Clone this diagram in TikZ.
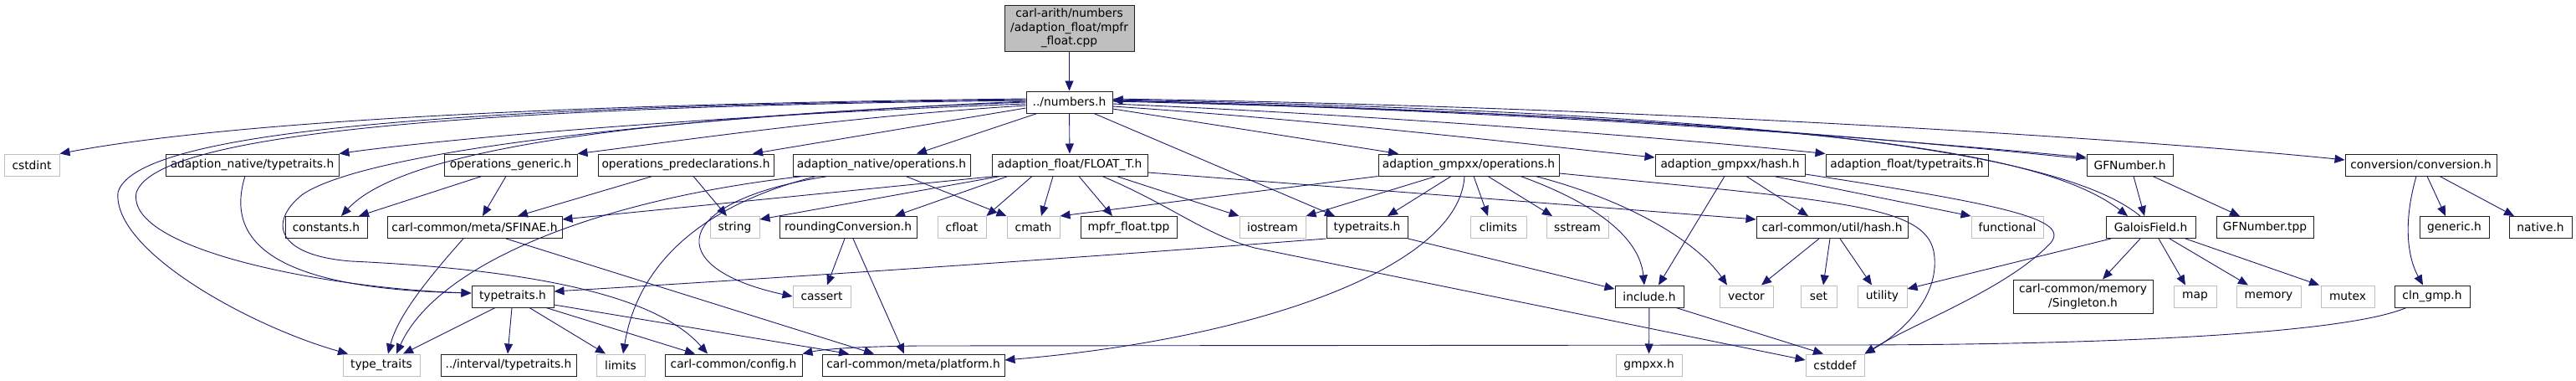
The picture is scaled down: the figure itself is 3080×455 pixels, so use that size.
\documentclass[tikz,border=0pt]{standalone}
\usepackage{fontspec}
\newfontfamily\dvsans{DejaVu Sans}
\usetikzlibrary{arrows.meta,calc}
\definecolor{edgecol}{HTML}{191970}
\definecolor{sysgray}{HTML}{BFBFBF}
\definecolor{topfill}{HTML}{BFBFBF}
\definecolor{hdrline}{HTML}{202020}
\newcommand{\hn}[6]{\node[#1, minimum width={#4*0.5pt-#3*0.5pt}] (#2) at ({(#3+#4)/2},#5) {#6};}
\begin{document}
\begin{tikzpicture}[x=0.5pt,y=-0.5pt,
  base/.style={rectangle, inner sep=0pt, minimum height=13pt, font=\dvsans\fontsize{6.9pt}{8.2pt}\selectfont, align=center},
  hdr/.style={base, draw=hdrline, line width=0.5pt, fill=white},
  sys/.style={base, draw=sysgray, line width=0.5pt, fill=white},
  topn/.style={base, draw=hdrline, line width=0.5pt, fill=topfill, minimum height=27.5pt},
  two/.style={hdr, minimum height=20pt},
  e/.style={draw=edgecol, line width=0.45pt, -{Triangle[length=6pt,width=5pt]}, color=edgecol}]
\useasboundingbox (0,0) rectangle (3080,455);
% rows
\def\ra{197}\def\rb{271.5}\def\rc{354}\def\rd{436}
\hn{topn}{top}{1201}{1356}{33.5}{carl-arith/numbers\\/adaption\_float/mpfr\\\_float.cpp}
\hn{hdr}{N}{1227}{1330}{122}{../numbers.h}
% row 1
\hn{sys}{cstdint}{5}{71}{\ra}{cstdint}
\hn{hdr}{ant}{198}{405}{\ra}{adaption\_native/typetraits.h}
\hn{hdr}{opg}{531}{690}{\ra}{operations\_generic.h}
\hn{hdr}{opp}{715}{925}{\ra}{operations\_predeclarations.h}
\hn{hdr}{ano}{948}{1160}{\ra}{adaption\_native/operations.h}
\hn{hdr}{ft}{1186}{1372}{\ra}{adaption\_float/FLOAT\_T.h}
\hn{hdr}{gops}{1648}{1864}{\ra}{adaption\_gmpxx/operations.h}
\hn{hdr}{ghash}{1979}{2158}{\ra}{adaption\_gmpxx/hash.h}
\hn{hdr}{aft}{2183}{2377}{\ra}{adaption\_float/typetraits.h}
\hn{hdr}{gfn}{2495}{2598}{\ra}{GFNumber.h}
\hn{hdr}{conv}{2804}{2985}{\ra}{conversion/conversion.h}
% row 2
\hn{hdr}{constants}{341}{439}{\rb}{constants.h}
\hn{hdr}{sfinae}{463}{672}{\rb}{carl-common/meta/SFINAE.h}
\hn{sys}{string}{849}{908}{\rb}{string}
\hn{hdr}{rc}{932}{1096}{\rb}{roundingConversion.h}
\hn{sys}{cfloat}{1121}{1179}{\rb}{cfloat}
\hn{sys}{cmath}{1204}{1267}{\rb}{cmath}
\hn{hdr}{mpfrtpp}{1292}{1407}{\rb}{mpfr\_float.tpp}
\hn{sys}{iostream}{1482}{1561}{\rb}{iostream}
\hn{hdr}{gtt}{1586}{1683}{\rb}{typetraits.h}
\hn{sys}{climits}{1758}{1825}{\rb}{climits}
\hn{sys}{sstream}{1849}{1923}{\rb}{sstream}
\hn{hdr}{uhash}{2100}{2281}{\rb}{carl-common/util/hash.h}
\hn{sys}{functional}{2357}{2443}{\rb}{functional}
\hn{hdr}{gf}{2518}{2625}{\rb}{GaloisField.h}
\hn{hdr}{gftpp}{2650}{2766}{\rb}{GFNumber.tpp}
\hn{hdr}{generic}{2893}{2976}{\rb}{generic.h}
\hn{hdr}{native}{3000}{3075}{\rb}{native.h}
% row 3
\hn{hdr}{tt}{564}{662}{\rc}{typetraits.h}
\hn{sys}{cassert}{948}{1017}{\rc}{cassert}
\hn{hdr}{include}{1931}{2013}{\rc}{include.h}
\hn{sys}{vector}{2056}{2120}{\rc}{vector}
\hn{sys}{set}{2153}{2196}{\rc}{set}
\hn{sys}{utility}{2221}{2280}{\rc}{utility}
\hn{two}{singleton}{2407}{2574}{\rc}{carl-common/memory\\/Singleton.h}
\hn{sys}{map}{2599}{2650}{\rc}{map}
\hn{sys}{memory}{2674}{2751}{\rc}{memory}
\hn{sys}{mutex}{2775}{2839}{\rc}{mutex}
\hn{hdr}{clngmp}{2863}{2953}{\rc}{cln\_gmp.h}
% row 4
\hn{sys}{typetr}{410}{502}{\rd}{type\_traits}
\hn{hdr}{interval}{527}{689}{\rd}{../interval/typetraits.h}
\hn{sys}{limits}{713}{771}{\rd}{limits}
\hn{hdr}{config}{795}{959}{\rd}{carl-common/config.h}
\hn{hdr}{platform}{983}{1201}{\rd}{carl-common/meta/platform.h}
\hn{sys}{gmpxxh}{1932}{2011}{\rd}{gmpxx.h}
\hn{sys}{cstddef}{2159}{2229}{\rd}{cstddef}

% ---------- edges ----------
\draw[e] (top) -- (N);
% numbers.h leftwards
\draw[e] (N.west |- 0,118) .. controls (600,125) and (250,150) .. (cstdint.north east);
\draw[e] (N.west |- 0,119) .. controls (500,127) and (160,160) .. (141,230) .. controls (135,300) and (300,390) .. (416,0 |- typetr.north);
\draw[e] (N.west |- 0,120) .. controls (500,128) and (185,165) .. (163,230) .. controls (150,300) and (400,345) .. (tt.west |- 0,350);
\draw[e] (N.west |- 0,121) .. controls (800,140) and (440,180) .. (362,232) .. controls (320,265) and (330,305) .. (420,312) .. controls (700,325) and (800,370) .. (846,0 |- config.north);
\draw[e] (N.west |- 0,122) .. controls (750,140) and (480,180) .. (408,0 |- constants.north);
\draw[e] (N.west |- 0,124) .. controls (800,140) and (500,170) .. (ant.north east);
\draw[e] (N.west |- 0,126) .. controls (1000,140) and (800,170) .. (opg.north east);
\draw[e] (N.west |- 0,129) -- (900,0 |- opp.north);
\draw[e] (1240,0 |- N.south) -- (1096,0 |- ano.north);
\draw[e] (N) -- (ft);
\draw[e] (1308,0 |- N.south) -- (1596,0 |- gtt.north);
% numbers.h rightwards
\draw[e] (N.east |- 0,130) -- (1672,0 |- gops.north);
\draw[e] (N.east |- 0,127) .. controls (1600,145) and (1850,175) .. (ghash.west |- 0,188);
\draw[e] (N.east |- 0,124) .. controls (1700,140) and (2050,170) .. (aft.north west);
\draw[e] (N.east |- 0,120) .. controls (1900,135) and (2300,170) .. (gfn.west |- 0,188);
\draw[e] (N.east |- 0,118) .. controls (2000,128) and (2600,170) .. (conv.west |- 0,191);
\draw[e] (N.east |- 0,121) .. controls (2100,140) and (2430,170) .. (2544,0 |- gf.north);
\draw[e] (2559,0 |- gf.north) .. controls (2470,185) and (2150,135) .. (N.east |- 0,119);
\draw[e] (gfn.west |- 0,190) .. controls (2250,165) and (1900,133) .. (N.east |- 0,120);
% adaption_native/operations.h
\draw[e] (960,0 |- ano.south) .. controls (700,240) and (520,320) .. (474,0 |- typetr.north);
\draw[e] (976,0 |- ano.south) .. controls (820,250) and (760,330) .. (745,0 |- limits.north);
\draw[e] (990,0 |- ano.south) .. controls (800,240) and (790,320) .. (cassert.west);
\draw[e] (1083,0 |- ano.south) -- (cmath.north west);
% FLOAT_T.h
\draw[e] (1190,0 |- ft.south) -- (sfinae.east |- 0,262);
\draw[e] (1196,0 |- ft.south) -- (string.east |- 0,262);
\draw[e] (1205,0 |- ft.south) -- (1070,0 |- rc.north);
\draw[e] (1234,0 |- ft.south) -- (cfloat.north east);
\draw[e] (1259,0 |- ft.south) -- (1245,0 |- cmath.north);
\draw[e] (1290,0 |- ft.south) -- (1330,0 |- mpfrtpp.north);
\draw[e] (1335,0 |- ft.south) -- (iostream.north west);
\draw[e] (1318,0 |- ft.south) .. controls (1400,245) and (1440,280) .. (1500,296) -- (cstddef.west |- 0,430);
\draw[e] (ft.east |- 0,206) -- (uhash.west |- 0,262);
% operations_generic / predeclarations
\draw[e] (576,0 |- opg.south) -- (429,0 |- constants.north);
\draw[e] (605,0 |- opg.south) -- (577,0 |- sfinae.north);
\draw[e] (780,0 |- opp.south) -- (619,0 |- sfinae.north);
\draw[e] (829,0 |- opp.south) -- (869,0 |- string.north);
% SFINAE, roundingConversion
\draw[e] (554,0 |- sfinae.south) .. controls (505,340) and (475,380) .. (464,0 |- typetr.north);
\draw[e] (605,0 |- sfinae.south) -- (1045,0 |- platform.north);
\draw[e] (1010,0 |- rc.south) -- (989,0 |- cassert.north);
\draw[e] (1020,0 |- rc.south) -- (1081,0 |- platform.north);
% adaption_native/typetraits.h
\draw[e] (293,0 |- ant.south) .. controls (268,290) and (330,345) .. (tt.west |- 0,350);
% typetraits.h
\draw[e] (592,0 |- tt.south) -- (482,0 |- typetr.north);
\draw[e] (612,0 |- tt.south) -- (607,0 |- interval.north);
\draw[e] (633,0 |- tt.south) -- (724,0 |- limits.north);
\draw[e] (653,0 |- tt.south) -- (831,0 |- config.north);
\draw[e] (tt.east |- 0,364) -- (1015,0 |- platform.north);
% cln_gmp.h
\draw[e] (2877,0 |- clngmp.south) .. controls (2800,400) and (2500,412) .. (2200,412) -- (1100,413) .. controls (1010,414) and (980,418) .. (config.north east);
% adaption_gmpxx/operations.h
\draw[e] (gops.south west) -- (cmath.north east);
\draw[e] (1717,0 |- gops.south) -- (iostream.north east);
\draw[e] (1735,0 |- gops.south) -- (1659,0 |- gtt.north);
\draw[e] (1762,0 |- gops.south) -- (1779,0 |- climits.north);
\draw[e] (1779,0 |- gops.south) -- (1856,0 |- sstream.north);
\draw[e] (1818,0 |- gops.south) .. controls (1900,240) and (1960,280) .. (1966,0 |- include.north);
\draw[e] (1836,0 |- gops.south) .. controls (1950,240) and (2030,290) .. (2065,0 |- vector.north);
\draw[e] (1751,0 |- gops.south) .. controls (1745,320) and (1500,405) .. (platform.east |- 0,430);
\draw[e] (gops.east |- 0,207) .. controls (2200,240) and (2300,245) .. (2312,300) .. controls (2322,355) and (2270,400) .. (cstddef.north east);
% adaption_gmpxx/hash.h
\draw[e] (2062,0 |- ghash.south) -- (1983,0 |- include.north);
\draw[e] (2088,0 |- ghash.south) -- (2162,0 |- uhash.north);
\draw[e] (2121,0 |- ghash.south) -- (functional.north west);
\draw[e] (ghash.east |- 0,208) .. controls (2400,245) and (2475,262) .. (2452,290) .. controls (2400,345) and (2290,385) .. (cstddef.north east);
% typetraits.h (gmpxx)
\draw[e] (gtt.south west) .. controls (1200,315) and (800,340) .. (tt.east |- 0,348);
\draw[e] (gtt.south east) -- (include.west |- 0,345);
% include.h
\draw[e] (include) -- (gmpxxh);
\draw[e] (2004,0 |- include.south) -- (2180,0 |- cstddef.north);
% carl-common/util/hash.h
\draw[e] (2175,0 |- uhash.south) -- (2106,0 |- vector.north);
\draw[e] (2188,0 |- uhash.south) -- (2180,0 |- set.north);
\draw[e] (2200,0 |- uhash.south) -- (2238,0 |- utility.north);
% GaloisField.h
\draw[e] (2524,0 |- gf.south) -- (utility.east |- 0,345);
\draw[e] (2559,0 |- gf.south) -- (2514,0 |- singleton.north);
\draw[e] (2581,0 |- gf.south) -- (2613,0 |- map.north);
\draw[e] (2594,0 |- gf.south) -- (2688,0 |- memory.north);
\draw[e] (2613,0 |- gf.south) -- (2773,0 |- mutex.north);
% GFNumber.h
\draw[e] (2551,0 |- gfn.south) -- (2564,0 |- gf.north);
\draw[e] (2574,0 |- gfn.south) -- (2678,0 |- gftpp.north);
% conversion.h
\draw[e] (2889,0 |- conv.south) .. controls (2872,270) and (2880,310) .. (2897,0 |- clngmp.north);
\draw[e] (2902,0 |- conv.south) -- (2924,0 |- generic.north);
\draw[e] (2917,0 |- conv.south) -- (3006,0 |- native.north);
\end{tikzpicture}
\end{document}
